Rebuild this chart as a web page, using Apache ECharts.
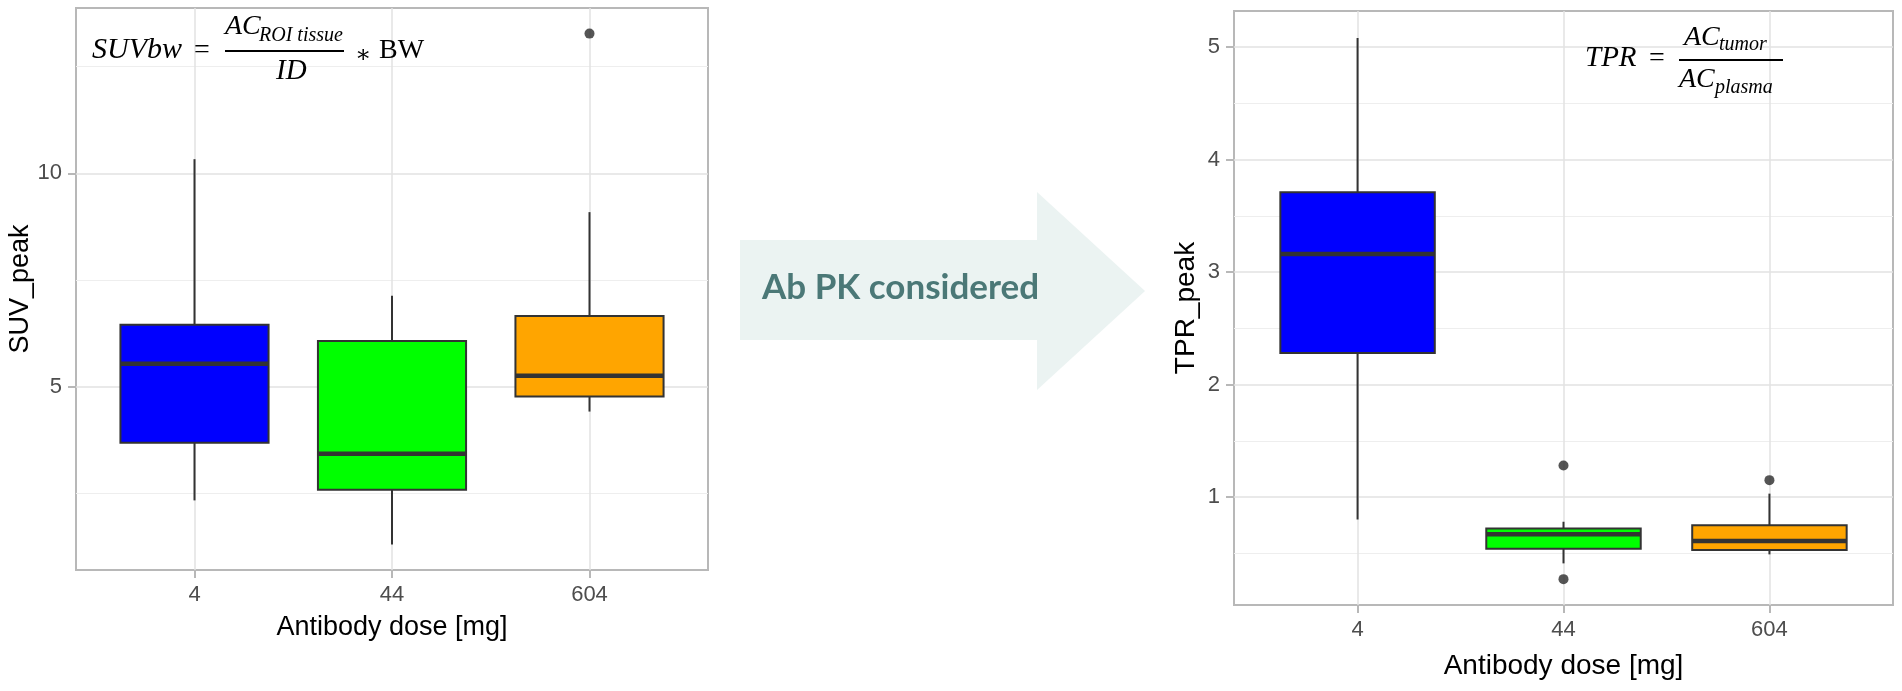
<!DOCTYPE html>
<html>
<head>
<meta charset="utf-8">
<script src="https://cdn.jsdelivr.net/npm/echarts@6/dist/echarts.min.js"></script>
<style>
  html, body { margin: 0; padding: 0; background: #ffffff; }
  #chart { width: 1902px; height: 691px; }
</style>
</head>
<body>
<div id="chart"></div>
<script>
// ---------- data ----------
const categories = ['4', '44', '604'];
const catPos = [1, 2, 3];

// Left panel: SUV_peak
const suvLow    = [2.34, 1.31, 4.42];
const suvQ1     = [3.69, 2.59, 4.77];
const suvMedian = [5.54, 3.43, 5.26];
const suvQ3     = [6.45, 6.07, 6.66];
const suvHigh   = [10.33, 7.13, 9.09];
const suvOutliers = [[3, 13.27]];
const suvTicks = [5, 10];
const suvMinorTicks = [2.5, 7.5, 12.5];

// Right panel: TPR_peak
const tprLow    = [0.80, 0.41, 0.49];
const tprQ1     = [2.28, 0.54, 0.53];
const tprMedian = [3.16, 0.67, 0.61];
const tprQ3     = [3.71, 0.72, 0.75];
const tprHigh   = [5.08, 0.78, 1.03];
const tprOutliers = [[2, 1.28], [2, 0.27], [3, 1.15]];
const tprTicks = [1, 2, 3, 4, 5];
const tprMinorTicks = [0.5, 1.5, 2.5, 3.5, 4.5];

// ---------- styling ----------
const fills = ['#0000ff', '#00ff00', '#ffa500'];
const GRID_MAJOR = '#e2e2e2';
const GRID_MINOR = '#eeeeee';
const BORDER = '#b8b8b8';
const SANS = '"Liberation Sans", Arial, sans-serif';
const SERIF = '"Liberation Serif", "DejaVu Serif", serif';

function boxData(lo, q1, md, q3, hi) {
  return catPos.map((x, i) => [x, lo[i], q1[i], md[i], q3[i], hi[i]]);
}

function renderBox(params, api) {
  const x = api.value(0);
  const lo = api.coord([x, api.value(1)]);
  const q1 = api.coord([x, api.value(2)]);
  const md = api.coord([x, api.value(3)]);
  const q3 = api.coord([x, api.value(4)]);
  const hi = api.coord([x, api.value(5)]);
  const w = api.size([0.75, 0])[0];
  const cx = lo[0];
  const lineStyle = { stroke: '#333333', lineWidth: 2 };
  return {
    type: 'group',
    children: [
      { type: 'line', shape: { x1: cx, y1: q3[1], x2: cx, y2: hi[1] }, style: lineStyle },
      { type: 'line', shape: { x1: cx, y1: q1[1], x2: cx, y2: lo[1] }, style: lineStyle },
      { type: 'rect', shape: { x: cx - w / 2, y: q3[1], width: w, height: q1[1] - q3[1] },
        style: { fill: fills[params.dataIndex], stroke: '#333333', lineWidth: 2 } },
      { type: 'line', shape: { x1: cx - w / 2, y1: md[1], x2: cx + w / 2, y2: md[1] },
        style: { stroke: '#333333', lineWidth: 4.5 } }
    ]
  };
}

function xAxisCfg(gridIndex, nameGap, nameSize) {
  return {
    type: 'value', gridIndex, min: 0.4, max: 3.6,
    name: 'Antibody dose [mg]', nameLocation: 'middle', nameGap,
    nameTextStyle: { fontFamily: SANS, fontSize: nameSize, color: '#000000' },
    axisLine: { show: false },
    axisTick: { show: true, length: 8, customValues: catPos, lineStyle: { color: BORDER, width: 2 } },
    axisLabel: { customValues: catPos, margin: 14, fontFamily: SANS, fontSize: 22, color: '#4d4d4d',
      formatter: v => categories[Math.round(v) - 1] },
    splitLine: { show: true, lineStyle: { color: GRID_MAJOR, width: 1.5 } }
  };
}

function yAxisCfg(gridIndex, min, max, ticks, name, nameGap, nameSize) {
  return {
    type: 'value', gridIndex, min, max,
    name, nameLocation: 'middle', nameGap,
    nameTextStyle: { fontFamily: SANS, fontSize: nameSize, color: '#000000' },
    axisLine: { show: false },
    axisTick: { show: true, length: 8, customValues: ticks, lineStyle: { color: BORDER, width: 2 } },
    axisLabel: { customValues: ticks, margin: 14, fontFamily: SANS, fontSize: 22, color: '#4d4d4d' },
    splitLine: { show: true, lineStyle: { color: GRID_MAJOR, width: 1.5 } }
  };
}

function minorYAxisCfg(gridIndex, min, max, ticks) {
  return {
    type: 'value', gridIndex, min, max,
    axisLine: { show: false },
    axisTick: { show: false, customValues: ticks },
    axisLabel: { show: false, customValues: ticks },
    splitLine: { show: true, lineStyle: { color: GRID_MINOR, width: 1 } }
  };
}

function txt(text, x, y, size, upright) {
  return {
    type: 'text', x, y, z: 100,
    style: {
      text, fontFamily: SERIF, fontSize: size, fontStyle: upright ? 'normal' : 'italic', fill: '#000000',
      verticalAlign: 'middle', align: 'left'
    }
  };
}

const graphics = [
  // arrow
  { type: 'polygon', z: 1,
    shape: { points: [[740, 240], [1037, 240], [1037, 192], [1145, 291], [1037, 390], [1037, 340], [740, 340]] },
    style: { fill: '#ebf3f2' } },
  { type: 'text', x: 762, y: 288, z: 2,
    style: { text: 'Ab PK considered', fontFamily: 'Lato, "Open Sans", sans-serif', fontWeight: 'bold',
      fontSize: 35, fill: '#4b7877', verticalAlign: 'middle', align: 'left' } },

  // left formula: SUVbw = AC_ROI tissue / ID * BW
  txt('SUVbw', 92, 50, 30),
  txt('=', 194, 51, 28, true),
  { type: 'rect', z: 100, shape: { x: 225, y: 50, width: 119, height: 2 }, style: { fill: '#000000' } },
  txt('AC', 225, 27, 28),
  txt('ROI tissue', 259, 36, 20),
  txt('ID', 276, 71, 29),
  txt('∗', 355, 56, 24, true),
  txt('BW', 379, 51, 28, true),

  // right formula: TPR = AC_tumor / AC_plasma
  txt('TPR', 1585, 58, 29),
  txt('=', 1649, 59, 28, true),
  { type: 'rect', z: 100, shape: { x: 1679, y: 59, width: 104, height: 2 }, style: { fill: '#000000' } },
  txt('AC', 1684, 38, 28),
  txt('tumor', 1719, 45, 20),
  txt('AC', 1679, 80, 28),
  txt('plasma', 1715, 88, 20)
];

const option = {
  animation: false,
  backgroundColor: '#ffffff',
  grid: [
    { left: 76, top: 8, width: 632, height: 562, show: true, borderColor: BORDER, borderWidth: 2, backgroundColor: 'transparent' },
    { left: 1234, top: 11, width: 659, height: 594, show: true, borderColor: BORDER, borderWidth: 2, backgroundColor: 'transparent' }
  ],
  xAxis: [
    xAxisCfg(0, 44, 27),
    xAxisCfg(1, 47, 28)
  ],
  yAxis: [
    yAxisCfg(0, 0.71, 13.87, suvTicks, 'SUV_peak', 42, 27),
    minorYAxisCfg(0, 0.71, 13.87, suvMinorTicks),
    yAxisCfg(1, 0.04, 5.32, tprTicks, 'TPR_peak', 34, 28),
    minorYAxisCfg(1, 0.04, 5.32, tprMinorTicks)
  ],
  series: [
    { type: 'custom', xAxisIndex: 0, yAxisIndex: 0, renderItem: renderBox,
      encode: { x: 0, y: [1, 2, 3, 4, 5] },
      data: boxData(suvLow, suvQ1, suvMedian, suvQ3, suvHigh), z: 5 },
    { type: 'scatter', xAxisIndex: 0, yAxisIndex: 0, data: suvOutliers, symbolSize: 10,
      itemStyle: { color: '#2b2b2b' }, z: 6 },
    { type: 'custom', xAxisIndex: 1, yAxisIndex: 2, renderItem: renderBox,
      encode: { x: 0, y: [1, 2, 3, 4, 5] },
      data: boxData(tprLow, tprQ1, tprMedian, tprQ3, tprHigh), z: 5 },
    { type: 'scatter', xAxisIndex: 1, yAxisIndex: 2, data: tprOutliers, symbolSize: 10,
      itemStyle: { color: '#2b2b2b' }, z: 6 }
  ],
  graphic: graphics
};

const chart = echarts.init(document.getElementById('chart'), null, { renderer: 'canvas' });
chart.setOption(option);
</script>
</body>
</html>
